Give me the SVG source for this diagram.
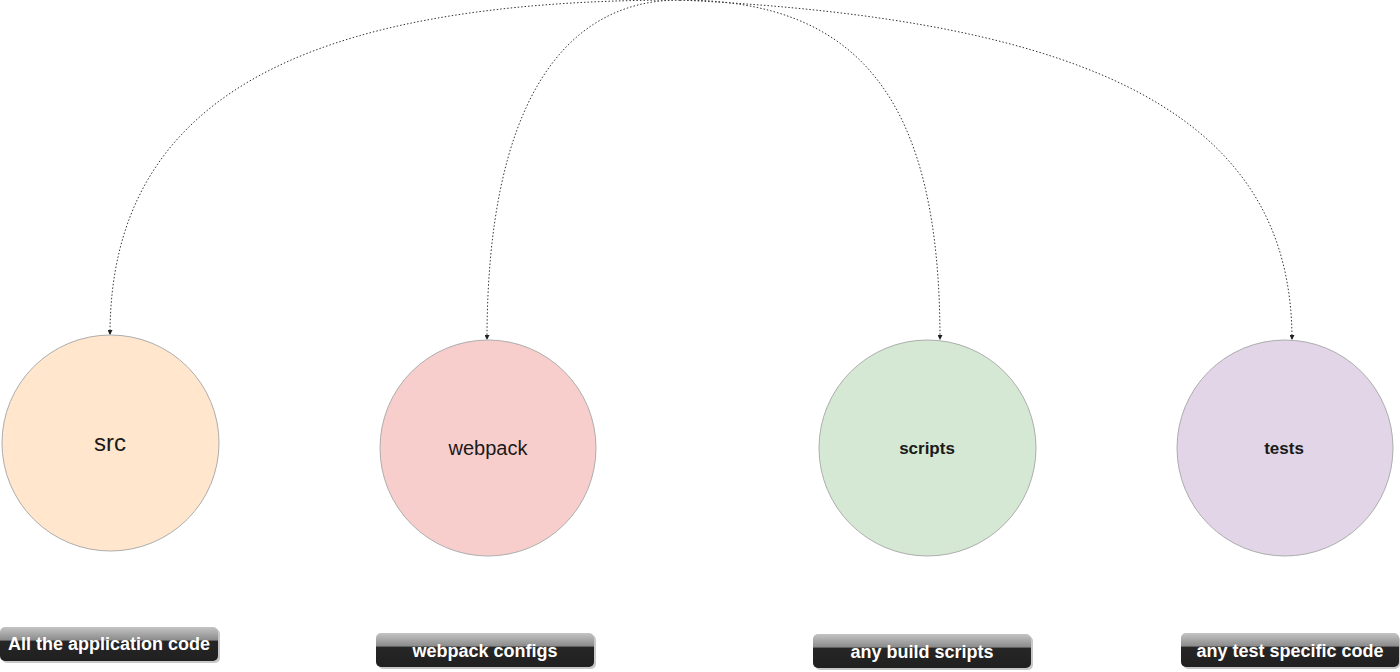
<svg xmlns="http://www.w3.org/2000/svg" width="1400" height="672" viewBox="0 0 1400 672">
<defs>
<style>
.node{stroke:#adadad;stroke-width:1}
.conn{fill:none;stroke:#333;stroke-width:1;stroke-dasharray:1.5 2}
.t{font-family:"Liberation Sans",Arial,sans-serif;fill:#1a1a1a;text-anchor:middle}
.lbl{fill:url(#glass)}
.shadow{fill:#c8c8c8}
.lt{font-family:"Liberation Sans",Arial,sans-serif;font-weight:bold;font-size:18px;fill:#fff;text-anchor:middle}
</style>
<linearGradient id="glass" x1="0" y1="0" x2="0" y2="1">
<stop offset="0" stop-color="#c4c4c4"/>
<stop offset="0.38" stop-color="#8c8c8c"/>
<stop offset="0.42" stop-color="#262626"/>
<stop offset="1" stop-color="#202020"/>
</linearGradient>
<marker id="arr" viewBox="0 0 10 10" refX="10" refY="5" markerWidth="5" markerHeight="5" orient="auto" markerUnits="userSpaceOnUse">
<path d="M0,0 L10,5 L0,10 z" fill="#222"/>
</marker>
</defs>
<rect width="1400" height="672" fill="#fff"/>
<g id="connectors">
<path class="conn" d="M680,0 C300,0 110,100 110,335" marker-end="url(#arr)"/>
<path class="conn" d="M680,0 C560,0 487,110 487,340" marker-end="url(#arr)"/>
<path class="conn" d="M680,0 C860,0 940,100 940,340" marker-end="url(#arr)"/>
<path class="conn" d="M680,0 C1100,20 1292,120 1292,340" marker-end="url(#arr)"/>
</g>
<g id="node-src">
<ellipse class="node" cx="110.5" cy="443" rx="108.5" ry="108" fill="#ffe6cc"/>
<text class="t" x="110" y="451" font-size="24">src</text>
</g>
<g id="node-webpack">
<ellipse class="node" cx="488" cy="448" rx="108" ry="108" fill="#f8cecc"/>
<text class="t" x="488" y="455" font-size="20">webpack</text>
</g>
<g id="node-scripts">
<ellipse class="node" cx="927.5" cy="448" rx="108.5" ry="108" fill="#d5e8d4"/>
<text class="t" x="927" y="454" font-size="17" font-weight="bold">scripts</text>
</g>
<g id="node-tests">
<ellipse class="node" cx="1285" cy="448" rx="108" ry="108" fill="#e1d5e7"/>
<text class="t" x="1284" y="454" font-size="17" font-weight="bold">tests</text>
</g>
<g id="label-src">
<rect class="shadow" x="2" y="629" width="218" height="34" rx="5"/>
<rect class="lbl" x="0" y="627" width="218" height="34" rx="5"/>
<text class="lt" x="109" y="650">All the application code</text>
</g>
<g id="label-webpack">
<rect class="shadow" x="378" y="635" width="218" height="34" rx="5"/>
<rect class="lbl" x="376" y="633" width="218" height="34" rx="5"/>
<text class="lt" x="485" y="657">webpack configs</text>
</g>
<g id="label-scripts">
<rect class="shadow" x="815" y="636" width="218" height="34" rx="5"/>
<rect class="lbl" x="813" y="634" width="218" height="34" rx="5"/>
<text class="lt" x="922" y="658">any build scripts</text>
</g>
<g id="label-tests">
<rect class="shadow" x="1183" y="635" width="217" height="34" rx="5"/>
<rect class="lbl" x="1181" y="633" width="218" height="34" rx="5"/>
<text class="lt" x="1290" y="657">any test specific code</text>
</g>
</svg>
